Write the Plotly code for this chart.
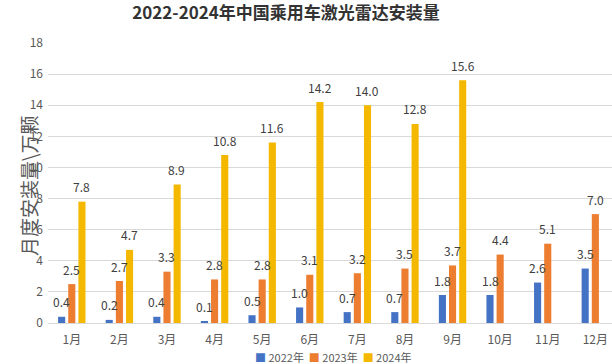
import plotly.graph_objects as go

months = ["1月", "2月", "3月", "4月", "5月", "6月", "7月", "8月", "9月", "10月", "11月", "12月"]
series_names = ["2022年", "2023年", "2024年"]
v2022 = [0.4, 0.2, 0.4, 0.1, 0.5, 1.0, 0.7, 0.7, 1.8, 1.8, 2.6, 3.5]
v2023 = [2.5, 2.7, 3.3, 2.8, 2.8, 3.1, 3.2, 3.5, 3.7, 4.4, 5.1, 7.0]
v2024 = [7.8, 4.7, 8.9, 10.8, 11.6, 14.2, 14.0, 12.8, 15.6, None, None, None]
y_ticks = [0, 2, 4, 6, 8, 10, 12, 14, 16, 18]

colors = ["#4472C4", "#ED7D31", "#F4B800"]
series = [v2022, v2023, v2024]
shifts = [-10, 0, 10]

FONT = "Noto Sans CJK SC"

fig = go.Figure()
for name, vals, col in zip(series_names, series, colors):
    fig.add_trace(go.Bar(x=months, y=vals, name=name, marker_color=col,
                         marker_line_width=0, showlegend=False, hoverinfo="skip"))

annotations = []
for vals, dx in zip(series, shifts):
    for m, v in zip(months, vals):
        if v is None:
            continue
        annotations.append(dict(x=m, y=v, xref="x", yref="y", text=f"{v:.1f}",
                                showarrow=False, xshift=dx, yshift=15,
                                yanchor="middle", xanchor="center",
                                font=dict(family=FONT, size=12, color="#404040")))

# y axis title
annotations.append(dict(text="月度安装量\\万颗", textangle=-90, showarrow=False,
                        xref="paper", yref="paper", x=-0.0355, y=0.489,
                        xanchor="center", yanchor="middle",
                        font=dict(family=FONT, size=19, color="#595959")))

# legend
legend_text = "  ".join(
    f"<span style='color:{c}'>■</span> {n}" for n, c in zip(series_names, colors))
annotations.append(dict(text=legend_text, showarrow=False, xref="paper", yref="paper",
                        x=(333 - 48) / 564, y=-0.121, xanchor="center", yanchor="middle",
                        font=dict(family=FONT, size=11, color="#595959")))

fig.update_layout(
    width=612, height=364,
    margin=dict(l=48, r=0, t=43, b=41),
    paper_bgcolor="white", plot_bgcolor="white",
    barmode="group", bargap=0.36, bargroupgap=0.3,
    font=dict(family=FONT, color="#595959"),
    title=dict(text="<b>2022-2024年中国乘用车激光雷达安装量</b>",
               x=286 / 612, xanchor="center", y=1 - 13 / 364, yanchor="middle",
               xref="container", yref="container",
               font=dict(family=FONT, size=17, color="#333333")),
    xaxis=dict(type="category", range=[-0.5, 11.35], showgrid=False, automargin=False,
               showline=True, linecolor="#d9d9d9", linewidth=1,
               ticks="", tickfont=dict(size=12, color="#595959"), ticklabelstandoff=6),
    yaxis=dict(range=[0, 18], tickvals=y_ticks, showgrid=True, gridcolor="#d9d9d9",
               gridwidth=1, zeroline=False, showline=False, ticks="", automargin=False,
               tickfont=dict(size=12, color="#595959"), ticklabelstandoff=4),
    annotations=annotations,
    showlegend=False,
)

fig.write_html("out.html", config={"displayModeBar": False},
               post_script="document.body.style.margin='0';")
